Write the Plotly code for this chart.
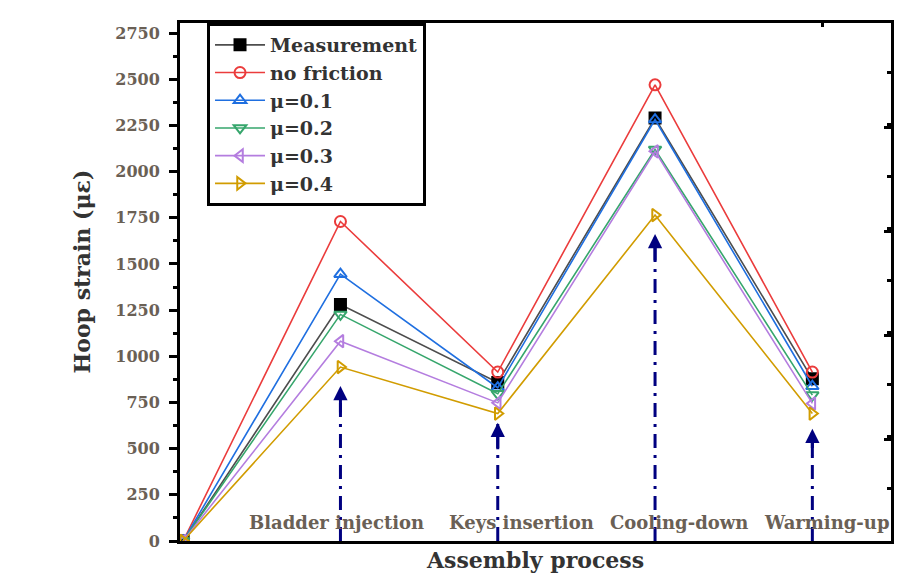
import plotly.graph_objects as go

# ---- data ----
stages = ["Start", "Bladder injection", "Keys insertion", "Cooling-down", "Warming-up"]
x_pos = [0, 1, 2, 3, 4]

measurement = [0, 1280, 858, 2290, 878]
no_friction = [0, 1730, 915, 2470, 915]
mu_01 = [0, 1445, 830, 2282, 838]
mu_02 = [0, 1227, 797, 2120, 790]
mu_03 = [0, 1082, 748, 2110, 745]
mu_04 = [0, 942, 690, 1765, 690]

arrow_x = [1, 2, 3, 4]
arrow_values = [840, 640, 1663, 608]

y_ticks = [0, 250, 500, 750, 1000, 1250, 1500, 1750, 2000, 2250, 2500, 2750]

# ---- styles ----
FONT = "DejaVu Serif"
series = [
    ("Measurement", measurement, "#4d4d4d", "square", "black"),
    ("no friction", no_friction, "#eb3c3c", "circle-open", "#eb3c3c"),
    ("\u03bc=0.1", mu_01, "#1f6fe0", "triangle-up-open", "#1f6fe0"),
    ("\u03bc=0.2", mu_02, "#36a66c", "triangle-down-open", "#36a66c"),
    ("\u03bc=0.3", mu_03, "#b47ddf", "triangle-left-open", "#b47ddf"),
    ("\u03bc=0.4", mu_04, "#d19c00", "triangle-right-open", "#d19c00"),
]

fig = go.Figure()

# dash-dot arrows (drawn first, under the series)
for xa, va in zip(arrow_x, arrow_values):
    fig.add_trace(go.Scatter(
        x=[xa, xa], y=[0, va], mode="lines",
        line=dict(color="#000080", width=3, dash="14px,7px,3px,7px"),
        showlegend=False, hoverinfo="skip"))

for name, vals, lc, sym, mc in series:
    fig.add_trace(go.Scatter(
        x=x_pos, y=vals, mode="lines+markers", name=name,
        line=dict(color=lc, width=1.6),
        marker=dict(symbol=sym, size=11, color=mc,
                    line=dict(color=mc, width=2)),
    ))

# invisible trace to carry the overlay axes (top/right inside ticks)
fig.add_trace(go.Scatter(x=[None], y=[None], xaxis="x2", yaxis="y2",
                         showlegend=False, hoverinfo="skip"))

annotations = []
for xa, va in zip(arrow_x, arrow_values):
    annotations.append(dict(
        x=xa, y=va, xref="x", yref="y", ax=0, ay=28, text="",
        showarrow=True, arrowhead=2, arrowsize=0.95, arrowwidth=3,
        arrowcolor="#000080"))

label_x = [0.975, 2.15, 3.15, 4.09]
for lx, name in zip(label_x, stages[1:]):
    annotations.append(dict(
        x=lx, y=0.036, xref="x", yref="paper", text=name, showarrow=False,
        font=dict(family=FONT, size=18, color="#6a6055", weight="bold"),
        xanchor="center", yanchor="middle"))

annotations.append(dict(
    x=0.499, y=-0.036, xref="paper", yref="paper", text="Assembly process",
    showarrow=False, xanchor="center", yanchor="middle",
    font=dict(family=FONT, size=22, color="#333333", weight="bold")))
annotations.append(dict(
    x=-0.138, y=0.52, xref="paper", yref="paper", text="Hoop strain (\u03bc\u03b5)",
    showarrow=False, textangle=-90, xanchor="center", yanchor="middle",
    font=dict(family=FONT, size=22, color="#333333", weight="bold")))

fig.update_layout(
    width=912, height=567,
    margin=dict(l=172, r=29, t=12, b=34),
    paper_bgcolor="white", plot_bgcolor="white",
    showlegend=True,
    legend=dict(x=0.038, y=1.0, xanchor="left", yanchor="top",
                bgcolor="white", bordercolor="black", borderwidth=3,
                font=dict(family=FONT, size=19, color="#333333", weight="bold"),
                tracegroupgap=0, itemwidth=50),
    xaxis=dict(range=[-0.02, 4.5], showgrid=False, zeroline=False,
               showticklabels=False, ticks="", showline=True,
               linecolor="black", linewidth=3, mirror=True),
    yaxis=dict(range=[0, 2805], tickvals=y_ticks, showgrid=False, zeroline=False,
               ticks="outside", ticklen=8, tickwidth=3, tickcolor="black",
               ticklabelstandoff=6,
               minor=dict(dtick=125, ticks="outside", ticklen=4, tickwidth=3,
                          tickcolor="black", showgrid=False),
               showline=True, linecolor="black", linewidth=3, mirror=True,
               tickfont=dict(family=FONT, size=16, color="#6a6055", weight="bold")),
    xaxis2=dict(overlaying="x", side="top", range=[0, 711], tickvals=[142, 642],
                ticks="inside", ticklen=4, tickwidth=3, tickcolor="black",
                showticklabels=False, showgrid=False, zeroline=False, showline=False),
    yaxis2=dict(overlaying="y", side="right", range=[0, 521], tick0=102, dtick=104.7,
                ticks="inside", ticklen=7, tickwidth=3, tickcolor="black",
                minor=dict(dtick=52.35, ticks="inside", ticklen=4, tickwidth=3,
                           tickcolor="black", showgrid=False),
                showticklabels=False, showgrid=False, zeroline=False, showline=False),
    annotations=annotations,
)

fig.write_html("out.html")
